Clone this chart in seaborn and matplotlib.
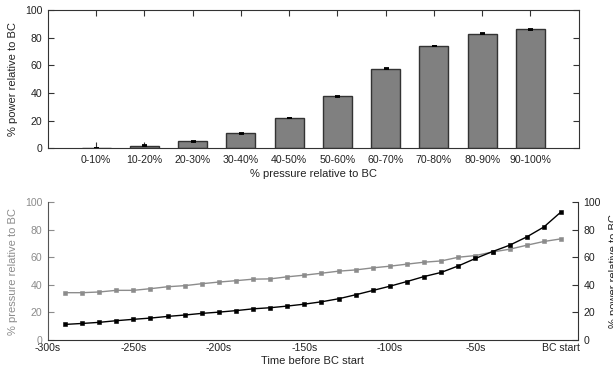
import numpy as np
import pandas as pd
import matplotlib
matplotlib.use("Agg")
import matplotlib.pyplot as plt
import seaborn as sns

# ---- data ----
categories = ["0-10%", "10-20%", "20-30%", "30-40%", "40-50%",
              "50-60%", "60-70%", "70-80%", "80-90%", "90-100%"]
power_by_pressure = [0.3, 1.7, 5.1, 10.9, 21.8, 37.5, 57.6, 74.0, 82.8, 86.2]
power_err = [0.1, 0.4, 0.4, 0.3, 0.3, 0.3, 0.3, 0.3, 0.4, 0.4]

time_s = [-290, -280, -270, -260, -250, -240, -230, -220, -210, -200,
          -190, -180, -170, -160, -150, -140, -130, -120, -110, -100,
          -90, -80, -70, -60, -50, -40, -30, -20, -10, 0]
pressure = [34.3, 34.3, 34.8, 36.0, 36.0, 37.2, 38.6, 39.4, 40.8, 42.0,
            43.0, 44.1, 44.3, 45.8, 47.0, 48.4, 49.9, 50.8, 52.3, 53.5,
            55.0, 56.4, 57.3, 60.0, 61.2, 63.8, 65.8, 68.7, 71.4, 73.3]
power = [11.3, 12.0, 12.8, 14.0, 15.0, 15.9, 17.1, 18.1, 19.3, 20.2,
         21.3, 22.6, 23.4, 24.6, 26.0, 27.7, 29.9, 32.8, 35.9, 39.0,
         42.4, 46.0, 49.0, 53.7, 59.1, 64.1, 68.7, 74.7, 81.9, 92.8]
time_ticks = [-300, -250, -200, -150, -100, -50, 0]
time_labels = ["-300s", "-250s", "-200s", "-150s", "-100s", "-50s", "BC start"]

sns.set_theme(style="white")
plt.rcParams['font.family'] = ['Liberation Sans', 'DejaVu Sans']
plt.rcParams['font.size'] = 8

GRAY = "#8c8c8c"
DARK = "#333333"
TXT = "#222222"
TICK_FS = 7.6
LAB_FS = 8.0

fig = plt.figure(figsize=(6.13, 3.76), dpi=100)

# ---- top panel ----
ax1 = fig.add_axes([0.078, 0.606, 0.866, 0.367])
df_bar = pd.DataFrame({"cat": categories, "val": power_by_pressure})
sns.barplot(data=df_bar, x="cat", y="val", ax=ax1, color="#808080",
            saturation=1, width=0.6, edgecolor=DARK, linewidth=1.0,
            errorbar=None)
ax1.errorbar(np.arange(len(categories)), power_by_pressure, yerr=power_err,
             fmt="none", ecolor="black", elinewidth=1.0, capsize=1.8, capthick=1.3)
ax1.set_xlim(-1, 10)
ax1.set_ylim(0, 100)
ax1.set_yticks([0, 20, 40, 60, 80, 100])
ax1.set_xlabel("% pressure relative to BC", fontsize=LAB_FS, color=TXT, labelpad=3)
ax1.set_ylabel("% power relative to BC", fontsize=LAB_FS, color=TXT, labelpad=5)
ax1.tick_params(axis="both", which="both", direction="in", top=True, right=True,
                bottom=True, left=True, length=4, width=0.8, colors=DARK,
                labelsize=TICK_FS, pad=5)
ax1.tick_params(axis="x", labelcolor=TXT)
ax1.tick_params(axis="y", labelcolor=TXT, pad=4)
for s in ax1.spines.values():
    s.set_visible(True)
    s.set_color(DARK)
    s.set_linewidth(0.8)

# ---- bottom panel ----
ax2 = fig.add_axes([0.078, 0.0957, 0.865, 0.367])
ax3 = ax2.twinx()
df_line = pd.DataFrame({"t": time_s, "pressure": pressure, "power": power})
sns.lineplot(data=df_line, x="t", y="pressure", ax=ax2, color=GRAY,
             marker="s", markersize=2.2, markeredgewidth=0.4,
             markeredgecolor=GRAY, linewidth=1.0)
sns.lineplot(data=df_line, x="t", y="power", ax=ax3, color="black",
             marker="s", markersize=2.2, markeredgewidth=0.4,
             markeredgecolor="black", linewidth=1.0)
for a in (ax2, ax3):
    a.set_xlim(-300, 10)
    a.set_ylim(0, 100)
    a.set_yticks([0, 20, 40, 60, 80, 100])
ax2.set_xticks(time_ticks)
ax2.set_xticklabels(time_labels)
ax2.set_xlabel("Time before BC start", fontsize=LAB_FS, color=TXT, labelpad=2)
ax2.set_ylabel("% pressure relative to BC", fontsize=LAB_FS, color=GRAY, labelpad=5)
ax3.set_ylabel("% power relative to BC", fontsize=LAB_FS, color=TXT, labelpad=6)
ax2.tick_params(axis="x", direction="in", length=4, width=0.8, colors=DARK,
                labelsize=TICK_FS, labelcolor=TXT, pad=2)
ax2.tick_params(axis="y", direction="in", length=4, width=0.8, colors=GRAY,
                labelsize=TICK_FS, labelcolor=GRAY, pad=4)
ax3.tick_params(axis="y", direction="in", length=4, width=0.8, colors=DARK,
                labelsize=TICK_FS, labelcolor=TXT, pad=4)
for a in (ax2, ax3):
    a.spines["top"].set_visible(False)
ax2.spines["left"].set_color("#555555")
ax2.spines["bottom"].set_color(DARK)
ax2.spines["right"].set_visible(False)
ax3.spines["left"].set_visible(False)
ax3.spines["bottom"].set_visible(False)
ax3.spines["right"].set_color(DARK)
for a in (ax2, ax3):
    for s in a.spines.values():
        s.set_linewidth(0.8)
ax2.grid(False)
ax3.grid(False)

fig.savefig("out.png", dpi=100)
